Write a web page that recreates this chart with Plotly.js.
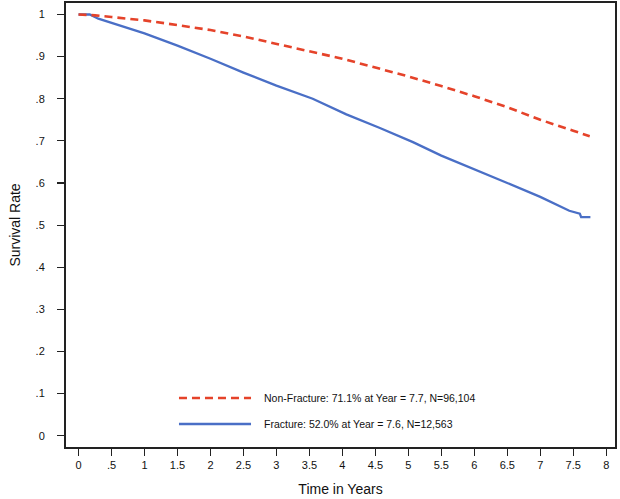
<!DOCTYPE html>
<html>
<head>
<meta charset="utf-8">
<script src="https://cdn.plot.ly/plotly-3.0.1.min.js"></script>
<style>html,body{margin:0;padding:0;background:#fff;}#chart{width:620px;height:499px;}</style>
</head>
<body>
<div id="chart"></div>
<script>
// Non-Fracture survival (red dashed)
const nonFracTime = [0, 0.25, 0.5, 1.0, 1.5, 2.0, 2.5, 3.0, 3.5, 4.0, 4.5, 5.0, 5.5, 6.0, 6.5, 7.0, 7.5, 7.75];
const nonFracSurv = [1.0, 0.998, 0.994, 0.986, 0.975, 0.963, 0.948, 0.930, 0.913, 0.895, 0.874, 0.853, 0.830, 0.806, 0.780, 0.750, 0.724, 0.711];
// Fracture survival (blue solid)
const fracTime = [0, 0.17, 0.3, 0.6, 1.0, 1.5, 2.0, 2.5, 3.0, 3.55, 4.06, 4.56, 5.07, 5.5, 6.08, 6.5, 7.0, 7.44, 7.6, 7.62, 7.76];
const fracSurv = [1.0, 1.0, 0.99, 0.975, 0.955, 0.926, 0.895, 0.862, 0.831, 0.800, 0.763, 0.731, 0.697, 0.665, 0.628, 0.600, 0.567, 0.534, 0.527, 0.519, 0.519];

const legendLabels = ["Non-Fracture: 71.1% at Year = 7.7, N=96,104", "Fracture: 52.0% at Year = 7.6, N=12,563"];
const xTickVals = [0, 0.5, 1, 1.5, 2, 2.5, 3, 3.5, 4, 4.5, 5, 5.5, 6, 6.5, 7, 7.5, 8];
const xTickText = ["0", ".5", "1", "1.5", "2", "2.5", "3", "3.5", "4", "4.5", "5", "5.5", "6", "6.5", "7", "7.5", "8"];
const yTickVals = [0, 0.1, 0.2, 0.3, 0.4, 0.5, 0.6, 0.7, 0.8, 0.9, 1];
const yTickText = ["0", ".1", ".2", ".3", ".4", ".5", ".6", ".7", ".8", ".9", "1"];

const RED = "#e5432a", BLUE = "#4a6fc6";
const FONT = "Liberation Sans, Arial, sans-serif";

const traces = [
  {x: fracTime, y: fracSurv, type: "scatter", mode: "lines", name: legendLabels[1],
   line: {color: BLUE, width: 2.3}, showlegend: false, hoverinfo: "skip"},
  {x: nonFracTime, y: nonFracSurv, type: "scatter", mode: "lines", name: legendLabels[0],
   line: {color: RED, width: 2.6, dash: "8px,5px"}, showlegend: false, hoverinfo: "skip"}
];

const legY = [0.1104, 0.0518];
const layout = {
  width: 620, height: 499,
  margin: {l: 66, r: 5, t: 3, b: 52},
  paper_bgcolor: "#fff", plot_bgcolor: "#fff",
  font: {family: FONT, size: 11, color: "#111"},
  xaxis: {
    range: [-0.19, 8.133], tickvals: xTickVals, ticktext: xTickText,
    ticks: "outside", ticklen: 7, tickwidth: 1.2, tickcolor: "#222",
    showgrid: false, zeroline: false, showline: true, mirror: true,
    linecolor: "#222", linewidth: 2, automargin: false,
    tickfont: {size: 11, family: FONT, color: "#111"},
    title: {text: "Time in Years", font: {size: 14, family: FONT, color: "#111"}, standoff: 14}
  },
  yaxis: {
    range: [-0.0268, 1.0273], tickvals: yTickVals, ticktext: yTickText,
    ticks: "outside", ticklen: 7, tickwidth: 1.2, tickcolor: "#222",
    showgrid: false, zeroline: false, showline: true, mirror: true,
    linecolor: "#222", linewidth: 2, automargin: false,
    ticklabelstandoff: 10,
    tickfont: {size: 11, family: FONT, color: "#111"},
    title: {text: "Survival Rate", font: {size: 14, family: FONT, color: "#111"}, standoff: 12}
  },
  shapes: [
    {type: "line", xref: "paper", yref: "paper", x0: 0.2058, x1: 0.337, y0: legY[0], y1: legY[0],
     line: {color: RED, width: 2.6, dash: "8px,5px"}},
    {type: "line", xref: "paper", yref: "paper", x0: 0.2058, x1: 0.337, y0: legY[1], y1: legY[1],
     line: {color: BLUE, width: 2.3}}
  ],
  annotations: [
    {xref: "paper", yref: "paper", x: 0.357, y: legY[0], xanchor: "left", yanchor: "middle",
     text: legendLabels[0], showarrow: false, font: {size: 10.5, family: FONT, color: "#111"}},
    {xref: "paper", yref: "paper", x: 0.357, y: legY[1], xanchor: "left", yanchor: "middle",
     text: legendLabels[1], showarrow: false, font: {size: 10.5, family: FONT, color: "#111"}}
  ]
};

Plotly.newPlot("chart", traces, layout, {staticPlot: true, displayModeBar: false});
</script>
</body>
</html>
